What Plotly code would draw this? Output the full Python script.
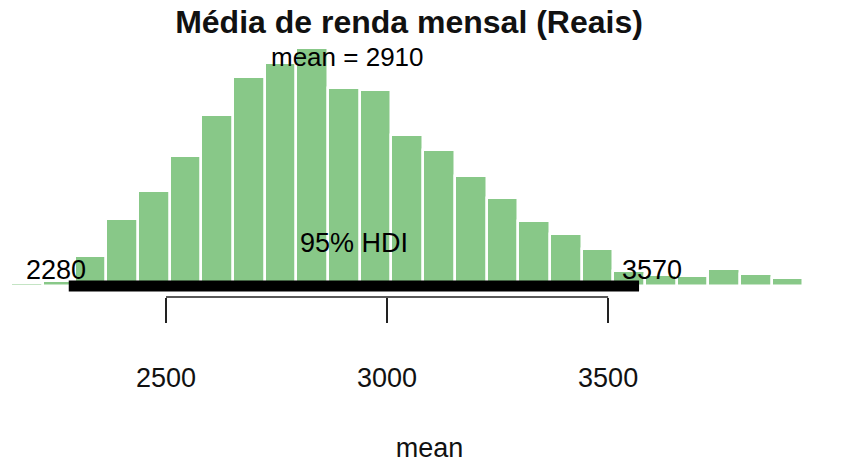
import plotly.graph_objects as go

# ---- data ----
title_text = "Média de renda mensal (Reais)"
x_label = "mean"
bin_start = 2150.0
hdi_low = 2280
hdi_high = 3570
bin_width = (hdi_high - hdi_low) / 18.0
post_mean = 2910
# density of each bin (x 1e-3)
density = [0.018, 0.031, 0.184, 0.409, 0.584, 0.797, 1.048, 1.283, 1.367, 1.459,
           1.216, 1.201, 0.926, 0.834, 0.674, 0.538, 0.400, 0.317, 0.225, 0.092,
           0.067, 0.061, 0.104, 0.074, 0.049]
tick_vals = [2500, 3000, 3500]
tick_text = ["2500", "3000", "3500"]

centers = [bin_start + bin_width * (i + 0.5) for i in range(len(density))]

FONT = "Liberation Sans, Arial, Helvetica, sans-serif"
TXT = 27

fig = go.Figure()
fig.add_trace(go.Bar(
    x=centers, y=density, width=[bin_width] * len(density),
    marker=dict(color="#88c888", line=dict(color="white", width=2.5)),
    showlegend=False, hoverinfo="skip",
))

# HDI bar
fig.add_shape(type="line", xref="x", yref="y", x0=hdi_low, x1=hdi_high, y0=0, y1=0,
              line=dict(color="black", width=11))
# axis line spanning the ticks only (R style)
fig.add_shape(type="line", xref="x", yref="paper", x0=tick_vals[0], x1=tick_vals[-1],
              y0=0, y1=0, line=dict(color="#222222", width=1.5))

fig.add_annotation(x=post_mean, y=1.405, text=f"mean = {post_mean}", showarrow=False,
                   xanchor="center", yanchor="middle", font=dict(size=26, color="black", family=FONT))
fig.add_annotation(x=(hdi_low + hdi_high) / 2, y=0.2636, text="95% HDI", showarrow=False,
                   xanchor="center", yanchor="middle", font=dict(size=TXT, color="black", family=FONT))
fig.add_annotation(x=hdi_low, y=0.098, text=str(hdi_low), showarrow=False,
                   xanchor="right", xshift=19, yanchor="middle",
                   font=dict(size=TXT, color="black", family=FONT))
fig.add_annotation(x=hdi_high, y=0.098, text=str(hdi_high), showarrow=False,
                   xanchor="left", xshift=-19, yanchor="middle",
                   font=dict(size=TXT, color="black", family=FONT))

fig.update_layout(
    width=859, height=463, autosize=False,
    margin=dict(l=0, r=0, t=0, b=166, pad=0),
    paper_bgcolor="white", plot_bgcolor="white",
    bargap=0,
    title=dict(text=title_text, x=409 / 859, xref="container", xanchor="center",
               y=1 - 22 / 463, yref="container", yanchor="middle",
               font=dict(size=32, color="#111111", family=FONT, weight="bold")),
    xaxis=dict(range=[2124.5, 4067.5], tickvals=tick_vals, ticktext=tick_text,
               ticks="outside", ticklen=25, tickwidth=1.5, tickcolor="#222222",
               showline=False, showgrid=False, zeroline=False,
               tickfont=dict(size=TXT, color="#111111", family=FONT),
               ticklabelstandoff=32,
               title=dict(text=x_label, standoff=48, font=dict(size=TXT, color="#111111", family=FONT))),
    yaxis=dict(range=[-0.0674, 1.7535], visible=False, fixedrange=True),
)

fig.write_html("out.html", config={"displayModeBar": False},
               post_script="document.body.style.margin='0';document.body.style.overflow='hidden';")
